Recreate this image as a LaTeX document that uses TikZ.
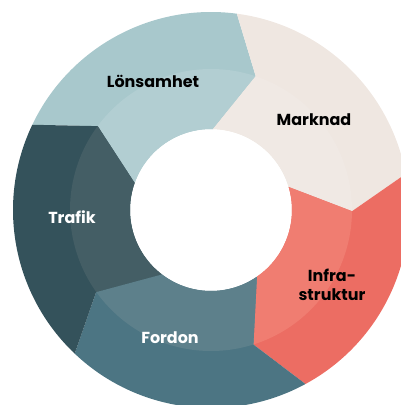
\documentclass[tikz,border=0pt]{standalone}
\usepackage{xcolor, fontspec}
\setmainfont{Poppins}
\usepackage{tikz}

\definecolor{lonsOut}{HTML}{A8C8CC}
\definecolor{lonsIn}{HTML}{B2CED2}
\definecolor{markOut}{HTML}{EFE7E1}
\definecolor{markIn}{HTML}{F0E9E4}
\definecolor{infraOut}{HTML}{EC6D63}
\definecolor{infraIn}{HTML}{F07D71}
\definecolor{fordOut}{HTML}{4C7583}
\definecolor{fordIn}{HTML}{5D808B}
\definecolor{trafOut}{HTML}{34525B}
\definecolor{trafIn}{HTML}{445E65}

% one arrow piece of the ring, #1 = angle of its back edge
\newcommand{\ringpart}[1]{(#1:198bp) arc[start angle=#1, end angle=#1-72, radius=198bp]
	-- (#1-83:141bp) -- (#1-66:81bp)
	arc[start angle=#1-66, end angle=#1+6, radius=81bp]
	-- (#1-11:141bp) -- cycle}

\begin{document}
\begin{tikzpicture}
	[
	segtext/.style={font=\bfseries\fontsize{16}{18.7}\selectfont, align=center}]
	\useasboundingbox (-211bp,-195bp) rectangle (190bp,210bp);
	\foreach \a/\co/\ci in {154.5/lonsOut/lonsIn, 82.5/markOut/markIn,
		10.5/infraOut/infraIn, -61.5/fordOut/fordIn, -133.5/trafOut/trafIn}
	{
		\fill[\co] \ringpart{\a};
		\begin{scope}
			\clip \ringpart{\a};
			\fill[\ci] (0,0) circle[radius=141bp];
		\end{scope}
	}
	\node[segtext] (lons) at (-58bp,129bp) {Lönsamhet};
	\node[segtext] (mark) at (103bp,90bp) {Marknad};
	\node[segtext] (infra) at (121bp,-74.5bp) {Infra-\\struktur};
	\node[segtext, white] (ford) at (-41bp,-128bp) {Fordon};
	\node[segtext, white] (traf) at (-139bp,-7bp) {Trafik};
\end{tikzpicture}
\end{document}
